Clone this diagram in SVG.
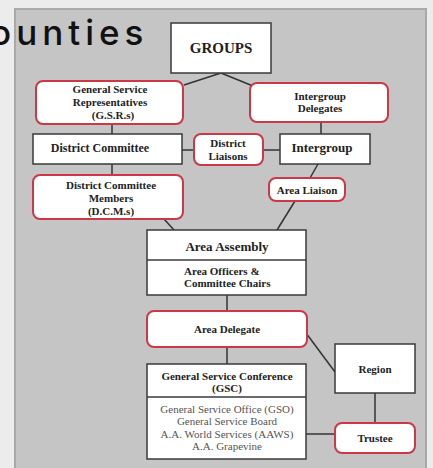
<svg xmlns="http://www.w3.org/2000/svg" width="433" height="468" viewBox="0 0 433 468">
<style>
.box{fill:#ffffff;stroke:#3a3a3a;stroke-width:1.5}
.red{fill:#ffffff;stroke:#cc3847;stroke-width:2}
.t{font-family:"Liberation Serif",serif;font-weight:bold;fill:#222;text-anchor:middle}
.r{font-family:"Liberation Serif",serif;fill:#555;text-anchor:middle;font-size:11px}
.s11{font-size:11px}.s12{font-size:12px}.s13{font-size:13px}.s15{font-size:15px}
.ln{stroke:#333;stroke-width:1.5;fill:none}
</style>
<rect x="0" y="0" width="433" height="468" fill="#ececec"/>
<rect x="15" y="9" width="411" height="470" fill="#c5c5c5" stroke="#a9a9a9" stroke-width="2"/>
<text x="-10" y="45" font-family="Inter, sans-serif" font-size="35" font-weight="500" letter-spacing="5" fill="#111">ounties</text>
<g id="connectors">
<line class="ln" x1="221" y1="73" x2="184" y2="85"/>
<line class="ln" x1="221" y1="73" x2="253" y2="86"/>
<line class="ln" x1="112" y1="124" x2="112" y2="134"/>
<line class="ln" x1="321" y1="122" x2="321" y2="134"/>
<line class="ln" x1="182" y1="150" x2="194" y2="150"/>
<line class="ln" x1="263" y1="150" x2="280" y2="150"/>
<line class="ln" x1="112" y1="164" x2="112" y2="175"/>
<line class="ln" x1="318" y1="164" x2="310" y2="178"/>
<line class="ln" x1="295" y1="201" x2="277" y2="230"/>
<line class="ln" x1="164" y1="219" x2="174" y2="230"/>
<line class="ln" x1="227" y1="295" x2="227" y2="311"/>
<line class="ln" x1="227" y1="347" x2="227" y2="364"/>
<line class="ln" x1="306" y1="333" x2="335" y2="372"/>
<line class="ln" x1="375" y1="393" x2="375" y2="423"/>
<line class="ln" x1="306" y1="434" x2="335" y2="434"/>
</g>
<g id="groups">
<rect class="box" x="171" y="23" width="100" height="50"/>
<text class="t s15" x="221" y="53">GROUPS</text>
</g>
<g id="gsr">
<rect class="red" x="36" y="81" width="147" height="43" rx="7"/>
<text class="t s11" x="110" y="93">General Service</text>
<text class="t s11" x="110" y="106">Representatives</text>
<text class="t s11" x="113" y="119">(G.S.R.s)</text>
</g>
<g id="intergroup-delegates">
<rect class="red" x="250" y="83" width="138" height="39" rx="7"/>
<text class="t s11" x="320" y="100">Intergroup</text>
<text class="t s11" x="320" y="112">Delegates</text>
</g>
<g id="district-committee">
<rect class="box" x="33" y="134" width="149" height="30"/>
<text class="t s12" x="100" y="152">District Committee</text>
</g>
<g id="district-liaisons">
<rect class="red" x="194" y="134" width="69" height="31" rx="7"/>
<text class="t s11" x="228" y="147">District</text>
<text class="t s11" x="228" y="160">Liaisons</text>
</g>
<g id="intergroup">
<rect class="box" x="280" y="134" width="90" height="30"/>
<text class="t s13" x="322" y="152">Intergroup</text>
</g>
<g id="dcm">
<rect class="red" x="33" y="175" width="150" height="44" rx="7"/>
<text class="t s11" x="111" y="189">District Committee</text>
<text class="t s11" x="111" y="202">Members</text>
<text class="t s11" x="111" y="215">(D.C.M.s)</text>
</g>
<g id="area-liaison">
<rect class="red" x="269" y="178" width="76" height="23" rx="7"/>
<text class="t s11" x="307" y="194">Area Liaison</text>
</g>
<g id="area-assembly">
<rect class="box" x="147" y="230" width="159" height="65"/>
<line x1="147" y1="260" x2="306" y2="260" stroke="#3a3a3a" stroke-width="1.5"/>
<text class="t s13" x="227" y="251">Area Assembly</text>
<text class="t s11" x="184" y="275" style="text-anchor:start">Area Officers &amp;</text>
<text class="t s11" x="184" y="287" style="text-anchor:start">Committee Chairs</text>
</g>
<g id="area-delegate">
<rect class="red" x="147" y="311" width="160" height="36" rx="7"/>
<text class="t s11" x="227" y="333">Area Delegate</text>
</g>
<g id="gsc">
<rect class="box" x="147" y="364" width="159" height="95"/>
<line x1="147" y1="397" x2="306" y2="397" stroke="#3a3a3a" stroke-width="1.5"/>
<text class="t s11" x="227" y="380">General Service Conference</text>
<text class="t s11" x="227" y="392">(GSC)</text>
<text class="r" x="227" y="413">General Service Office (GSO)</text>
<text class="r" x="227" y="425">General Service Board</text>
<text class="r" x="227" y="438">A.A. World Services (AAWS)</text>
<text class="r" x="227" y="450">A.A. Grapevine</text>
</g>
<g id="region">
<rect class="box" x="335" y="344" width="80" height="49"/>
<text class="t s11" x="375" y="373">Region</text>
</g>
<g id="trustee">
<rect class="red" x="335" y="423" width="80" height="30" rx="7"/>
<text class="t s11" x="375" y="442">Trustee</text>
</g>
</svg>
